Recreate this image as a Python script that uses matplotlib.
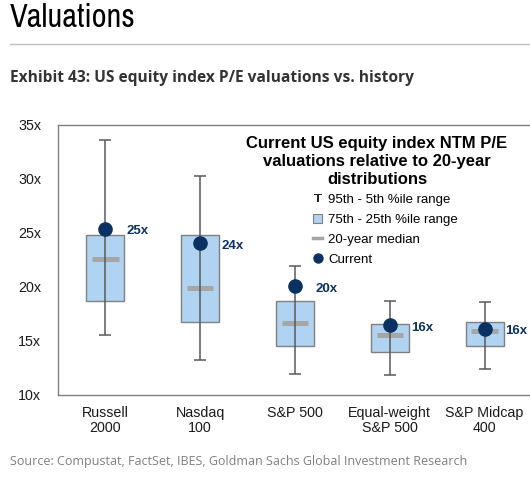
import numpy as np
import matplotlib
matplotlib.use('Agg')
import matplotlib.pyplot as plt
from matplotlib import font_manager
from matplotlib.lines import Line2D
from matplotlib.patches import Patch

plt.rcParams['font.family'] = ['Liberation Sans', 'DejaVu Sans']

# Datos (P/E NTM)
indices = ['Russell\n2000', 'Nasdaq\n100', 'S&P 500', 'Equal-weight\nS&P 500', 'S&P Midcap\n400']
p95 = [33.6, 30.25, 21.95, 18.75, 18.6]
p5 = [15.6, 13.25, 11.95, 11.85, 12.4]
p75 = [24.8, 24.8, 18.75, 16.55, 16.75]
p25 = [18.75, 16.75, 14.5, 13.95, 14.5]
median = [22.55, 19.9, 16.65, 15.6, 15.95]
current = [25.4, 24.05, 20.05, 16.45, 16.15]
yticks = [10, 15, 20, 25, 30, 35]

boxBlue = '#AFD3F0'
navy = '#0A3161'
grey = '#A6A6A6'

# fonte estreita para o cabecalho, se houver
names = sorted({f.name for f in font_manager.fontManager.ttflist})
narrow = [n for n in names if 'Narrow' in n or 'Condensed' in n]
headFont = narrow[0] if narrow else 'DejaVu Sans'

fig = plt.figure(figsize=(5.30, 4.78), dpi=100)
ax = fig.add_axes([58/530, 83/478, 474/530, 270/478])

x = np.arange(len(indices))

# Caixas 75-25
ax.bar(x, np.array(p75) - np.array(p25), bottom=p25, width=0.4,
       color=boxBlue, edgecolor='#808080', linewidth=1.0, zorder=2)

# Mediana de 20 anos
ax.hlines(median, x - 0.14, x + 0.14, colors=grey, linewidth=3.6, zorder=3)

# Faixa 95-5
mid = (np.array(p95) + np.array(p5)) / 2
half = (np.array(p95) - np.array(p5)) / 2
ax.errorbar(x, mid, yerr=half, fmt='none', ecolor='#595959', elinewidth=1.1,
            capsize=4.5, capthick=1.1, zorder=4)

# Atual
ax.plot(x, current, 'o', color=navy, markersize=9.5, zorder=5)
for i in range(len(x)):
    ax.annotate(f"{round(current[i])}x", (x[i], current[i]), xytext=(15, -2),
                textcoords='offset points', ha='left', va='center',
                fontsize=9.5, fontweight='bold', color=navy, zorder=6)

ax.set_xlim(-0.5, 4.5)
ax.set_ylim(10, 35)
ax.set_yticks(yticks)
ax.set_yticklabels([f"{t}x" for t in yticks])
ax.set_xticks(x)
ax.set_xticklabels(indices, linespacing=1.1)
ax.tick_params(axis='both', length=0, labelsize=10.3, colors='#1A1A1A')
ax.tick_params(axis='y', pad=12)
ax.tick_params(axis='x', pad=8)
for s in ['left', 'top', 'bottom']:
    ax.spines[s].set_color('#808080')
    ax.spines[s].set_linewidth(1.0)
ax.spines['right'].set_visible(False)

# Titulo da legenda
ax.text(0.673, 0.958, 'Current US equity index NTM P/E\nvaluations relative to 20-year\ndistributions',
        transform=ax.transAxes, ha='center', va='top', multialignment='center',
        fontsize=12, fontweight='bold', linespacing=1.23, color='black')

handles = [
    Line2D([], [], marker=r'$\mathrm{T}$', linestyle='none', color='#222222',
           markersize=6, markeredgewidth=0),
    Patch(facecolor=boxBlue, edgecolor='#808080', linewidth=0.8),
    Line2D([], [], color=grey, linewidth=2.5),
    Line2D([], [], marker='o', linestyle='none', color=navy, markersize=6.5),
]
labels = ['95th - 5th %ile range', '75th - 25th %ile range', '20-year median', 'Current']
leg = ax.legend(handles, labels, loc='upper left', bbox_to_anchor=(0.538, 0.745),
                frameon=False, fontsize=9.5, handlelength=0.7, handleheight=0.7,
                handletextpad=0.45, labelspacing=0.58, borderpad=0, borderaxespad=0)

# Cabecalho
fig.text(10/530, 1 - 18/478, 'Valuations', fontsize=23.3, va='center', ha='left',
         family=[headFont, 'DejaVu Sans'], color='black')
fig.add_artist(Line2D([10/530, 1], [1 - 44/478, 1 - 44/478], color='#BFBFBF', linewidth=1.0))
fig.text(10/530, 1 - 78/478, 'Exhibit 43: US equity index P/E valuations vs. history',
         fontsize=11.2, fontweight='bold', va='center', ha='left',
         family=['Open Sans', 'DejaVu Sans'], color='#333333')
fig.text(10/530, 1 - 462/478, 'Source: Compustat, FactSet, IBES, Goldman Sachs Global Investment Research',
         fontsize=9, va='center', ha='left', family=['Open Sans', 'DejaVu Sans'], color='#7F7F7F')

fig.savefig('out.png', dpi=100)
